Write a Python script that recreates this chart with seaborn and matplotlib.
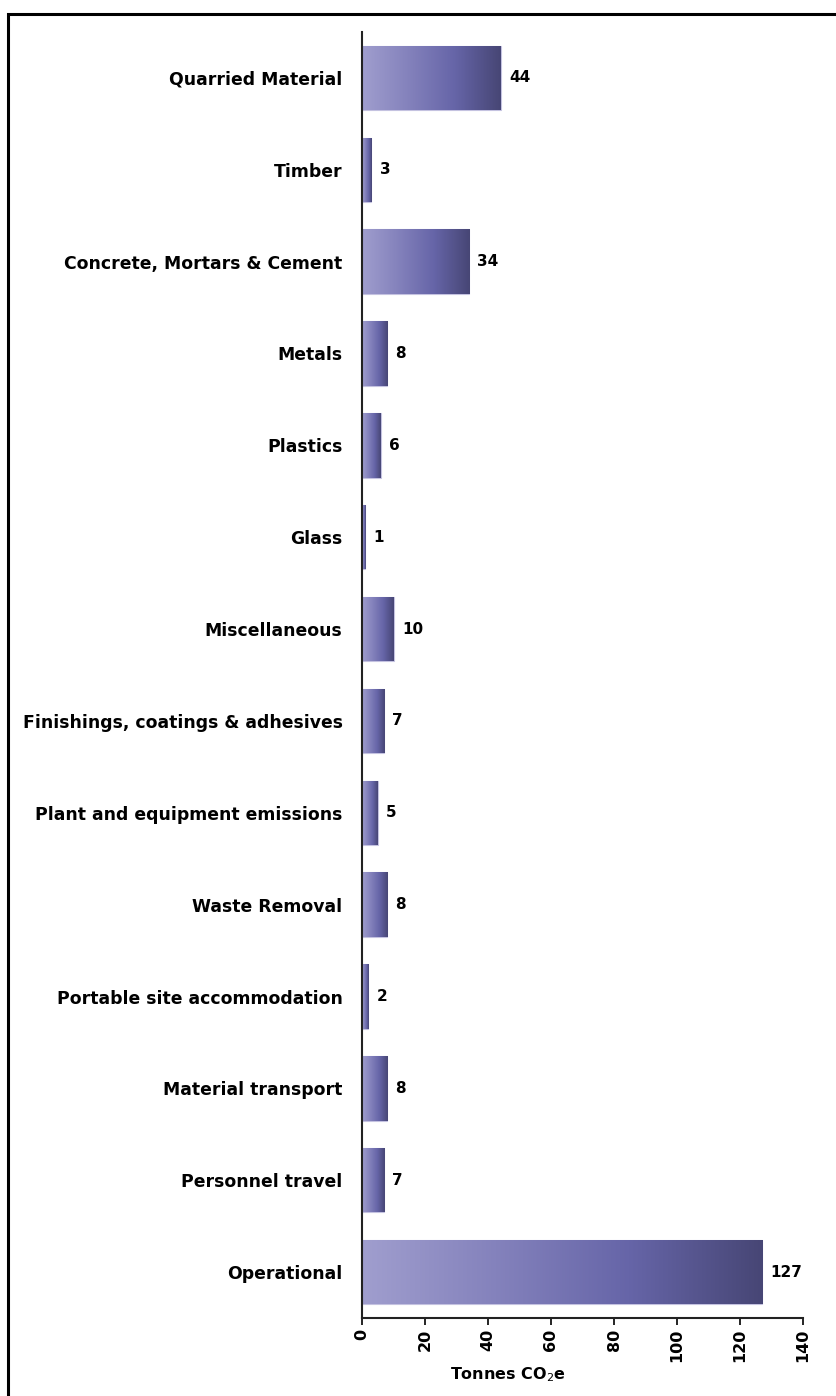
import numpy as np
import pandas as pd
import matplotlib
matplotlib.use("Agg")
import matplotlib.pyplot as plt
import seaborn as sns
from matplotlib.colors import LinearSegmentedColormap
from matplotlib.patches import Rectangle

categories = ["Quarried Material", "Timber", "Concrete, Mortars & Cement", "Metals",
              "Plastics", "Glass", "Miscellaneous", "Finishings, coatings & adhesives",
              "Plant and equipment emissions", "Waste Removal", "Portable site accommodation",
              "Material transport", "Personnel travel", "Operational"]
values = [44, 3, 34, 8, 6, 1, 10, 7, 5, 8, 2, 8, 7, 127]
value_labels = ["44", "3", "34", "8", "6", "1", "10", "7", "5", "8", "2", "8", "7", "127"]
x_ticks = [0, 20, 40, 60, 80, 100, 120, 140]

sns.set_theme(style="white")
plt.rcParams['font.family'] = ['DejaVu Sans']

df = pd.DataFrame({"cat": categories, "val": values})

fig = plt.figure(figsize=(8.36, 13.96), dpi=100)
ax = fig.add_axes([362/836, 1 - 1318/1396, (803-362)/836, (1318-32)/1396])

sns.barplot(data=df, y="cat", x="val", orient="h", ax=ax, width=0.7,
            color="#7070b0", saturation=1)

cmap = LinearSegmentedColormap.from_list("grad", ["#a09ece", "#8482bc", "#6665a8", "#474675"])
grad = np.linspace(0, 1, 256).reshape(1, -1)
for p in ax.patches:
    x0, y0 = p.get_x(), p.get_y()
    w, h = p.get_width(), p.get_height()
    im = ax.imshow(grad, cmap=cmap, aspect="auto", extent=(x0, x0 + w, y0 + h, y0),
                   zorder=p.get_zorder(), interpolation="bilinear")
    im.set_clip_path(p)
    p.set_facecolor("none")
    p.set_edgecolor("#c4c2e0")
    p.set_linewidth(0.8)

for i, (v, lab) in enumerate(zip(values, value_labels)):
    ax.annotate(lab, xy=(v, i), xytext=(6, 0), textcoords="offset points",
                va="center", ha="left", fontsize=11, fontweight="bold", color="black")

ax.set_xlim(0, 140)
ax.set_ylim(len(categories) - 0.5, -0.5)
ax.set_xticks(x_ticks)
ax.set_xticklabels([str(t) for t in x_ticks], rotation=90, fontsize=11.5,
                   fontweight="bold", color="black")
ax.set_yticks(range(len(categories)))
ax.set_yticklabels(categories, fontsize=12.4, fontweight="bold", color="black")
ax.tick_params(axis="y", length=0, pad=14)
ax.tick_params(axis="x", length=5, width=1.2, direction="out", bottom=True, color="black", pad=3)
ax.set_xlabel("Tonnes CO$_2$e", fontsize=11.5, fontweight="bold", color="black")
ax.xaxis.set_label_coords(0.33, -0.037)
ax.set_ylabel("")
for s in ["top", "right"]:
    ax.spines[s].set_visible(False)
for s in ["left", "bottom"]:
    ax.spines[s].set_visible(True)
    ax.spines[s].set_color("#222222")
    ax.spines[s].set_linewidth(1.5)
ax.grid(False)

frame = Rectangle((8/836, -0.05), 1.2, 1 - 14/1396 + 0.05, transform=fig.transFigure,
                  fill=False, edgecolor="black", linewidth=2.2, clip_on=False)
fig.patches.append(frame)

fig.savefig("out.png", dpi=100)
